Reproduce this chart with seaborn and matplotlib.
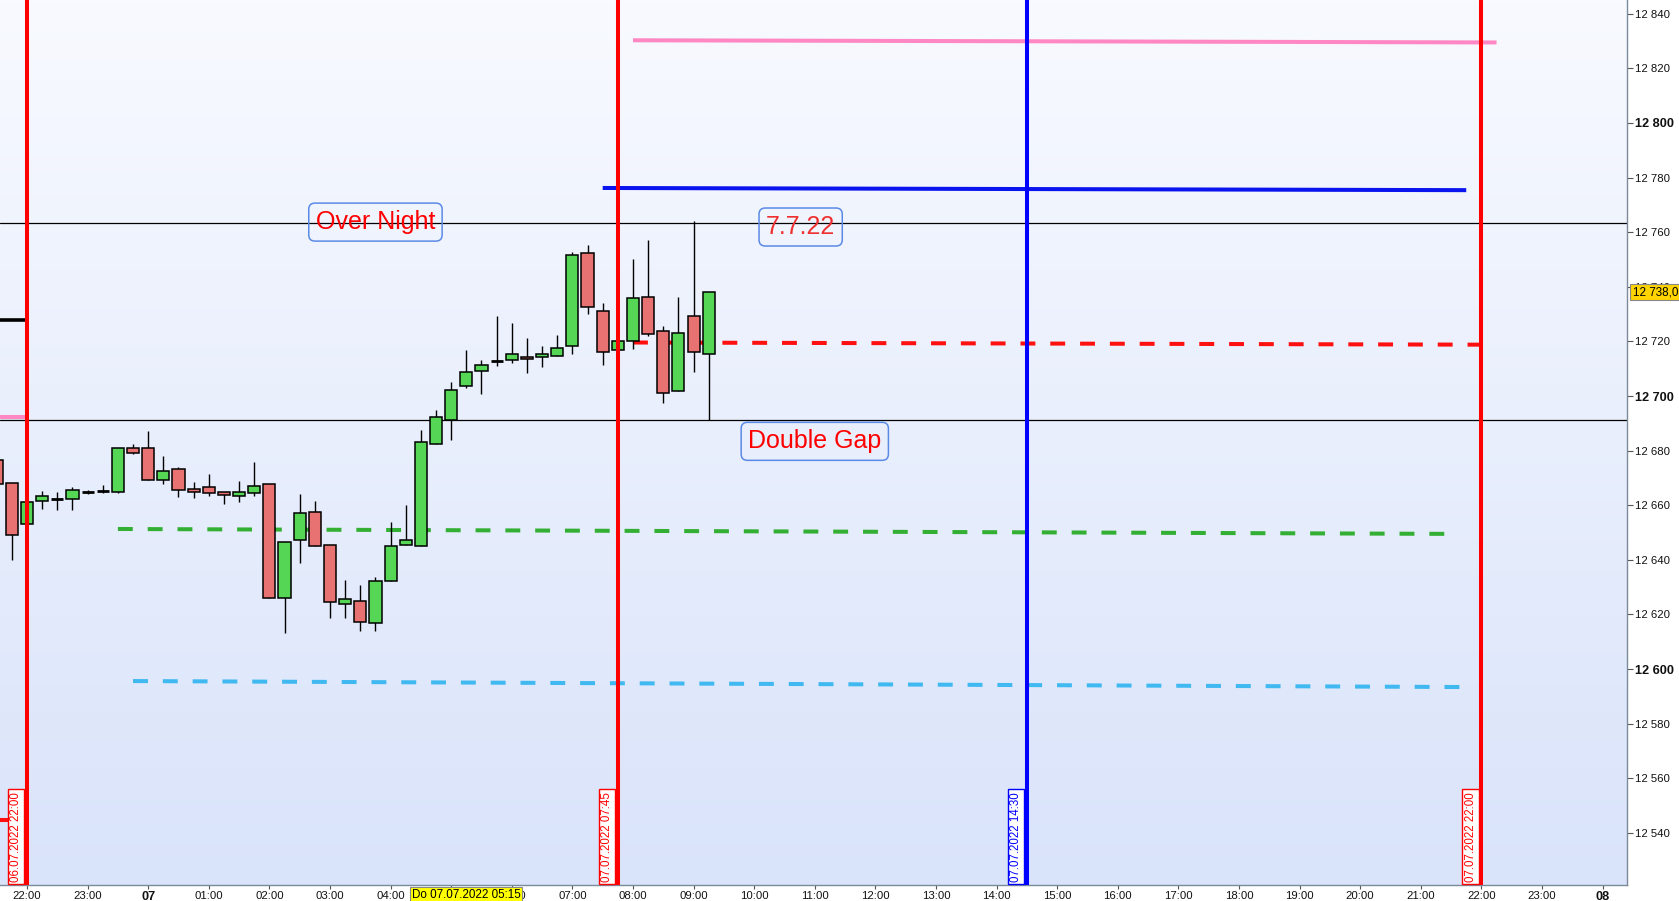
import numpy as np
import pandas as pd
import matplotlib
matplotlib.use("Agg")
import matplotlib.pyplot as plt
import matplotlib.transforms as mtransforms
import seaborn as sns

# ---------------- data ----------------
# 15-minute bars, 06.07.2022 21:30 .. 07.07.2022 09:15
bar_times = ["06.07 21:30", "06.07 21:45", "06.07 22:00", "06.07 22:15", "06.07 22:30", "06.07 22:45",
             "06.07 23:00", "06.07 23:15", "06.07 23:30", "06.07 23:45",
             "07.07 00:00", "07.07 00:15", "07.07 00:30", "07.07 00:45", "07.07 01:00", "07.07 01:15",
             "07.07 01:30", "07.07 01:45", "07.07 02:00", "07.07 02:15", "07.07 02:30", "07.07 02:45",
             "07.07 03:00", "07.07 03:15", "07.07 03:30", "07.07 03:45", "07.07 04:00", "07.07 04:15",
             "07.07 04:30", "07.07 04:45", "07.07 05:00", "07.07 05:15", "07.07 05:30", "07.07 05:45",
             "07.07 06:00", "07.07 06:15", "07.07 06:30", "07.07 06:45", "07.07 07:00", "07.07 07:15",
             "07.07 07:30", "07.07 07:45", "07.07 08:00", "07.07 08:15", "07.07 08:30", "07.07 08:45",
             "07.07 09:00", "07.07 09:15"]
opens = [12676.6, 12668.0, 12653.3, 12661.7, 12662.4, 12662.1, 12664.7, 12665.3, 12665.0, 12680.8,
         12680.8, 12669.4, 12673.1, 12666.1, 12666.5, 12665.0, 12663.2, 12664.3, 12667.6, 12625.9,
         12647.1, 12657.7, 12645.6, 12624.0, 12625.1, 12616.7, 12632.1, 12645.6, 12644.9, 12682.6,
         12691.2, 12703.5, 12709.1, 12712.7, 12713.1, 12714.2, 12714.2, 12714.6, 12718.2, 12752.3,
         12731.0, 12716.8, 12720.1, 12736.2, 12723.7, 12701.7, 12729.2, 12715.3]
highs = [12678.0, 12668.0, 12661.0, 12665.2, 12664.7, 12666.5, 12665.5, 12667.4, 12680.8, 12682.4,
         12687.1, 12678.0, 12674.0, 12668.5, 12671.4, 12665.0, 12668.8, 12675.8, 12667.6, 12646.7,
         12664.1, 12661.5, 12645.6, 12632.6, 12630.7, 12633.7, 12653.8, 12660.0, 12687.5, 12694.8,
         12705.2, 12716.9, 12713.2, 12729.2, 12726.8, 12721.3, 12718.3, 12722.4, 12752.8, 12755.3,
         12734.1, 12720.1, 12750.2, 12757.2, 12725.7, 12736.3, 12764.1, 12738.2]
lows = [12667.0, 12640.0, 12653.3, 12658.7, 12658.3, 12658.3, 12664.2, 12664.6, 12664.6, 12678.7,
        12669.1, 12667.9, 12663.0, 12662.7, 12663.3, 12660.5, 12661.3, 12663.5, 12625.9, 12613.3,
        12638.9, 12644.9, 12618.8, 12618.8, 12614.0, 12614.0, 12632.1, 12645.6, 12644.9, 12682.6,
        12684.0, 12703.1, 12700.9, 12711.1, 12712.0, 12708.6, 12710.5, 12714.6, 12715.5, 12730.2,
        12711.5, 12716.8, 12717.4, 12722.0, 12697.6, 12701.7, 12708.9, 12691.2]
closes = [12667.6, 12649.0, 12661.0, 12663.2, 12662.4, 12665.4, 12664.7, 12665.3, 12680.8, 12679.3,
          12669.1, 12672.4, 12665.4, 12664.9, 12664.3, 12663.6, 12665.0, 12667.2, 12625.9, 12646.7,
          12657.0, 12644.9, 12624.4, 12625.5, 12617.1, 12632.4, 12644.9, 12647.1, 12683.0, 12692.2,
          12702.1, 12708.7, 12711.3, 12712.7, 12715.3, 12713.5, 12715.3, 12717.5, 12751.6, 12732.5,
          12716.0, 12720.1, 12735.8, 12722.6, 12701.0, 12723.0, 12716.0, 12738.0]
last_price = 12738.0

# drawn level lines: (start, end, price at start, price at end)
level_names = ["pink", "blue", "red_dash", "green_dash", "cyan_dash"]
level_start = ["07.07 08:00", "07.07 07:30", "07.07 08:00", "06.07 23:30", "06.07 23:45"]
level_end = ["07.07 22:15", "07.07 21:45", "07.07 22:05", "07.07 21:30", "07.07 21:45"]
level_p0 = [12830.3, 12776.2, 12719.6, 12651.3, 12595.6]
level_p1 = [12829.5, 12775.4, 12718.8, 12649.5, 12593.4]

# full-width horizontal lines
hlines = [12763.3, 12691.2]
# short stubs left of the session line
stub_prices = [12727.8, 12692.4, 12544.7]

# vertical time markers
vlines_t = ["06.07 22:00", "07.07 07:45", "07.07 14:30", "07.07 22:00"]
vlines_lbl = ["06.07.2022 22:00", "07.07.2022 07:45", "07.07.2022 14:30", "07.07.2022 22:00"]

# text annotations
notes = ["Over Night", "7.7.22", "Double Gap"]
note_t = ["07.07 03:45", "07.07 10:46", "07.07 11:00"]
note_p = [12763.7, 12761.9, 12683.4]

crosshair_t = "07.07 05:15"
crosshair_lbl = "Do 07.07.2022 05:15"

x_tick_hours = list(range(-2, 25))
x_tick_labels = ["22:00", "23:00", "07"] + [f"{h:02d}:00" for h in range(1, 24)] + ["08"]
y_ticks = list(range(12540, 12841, 20))


def to_h(s):
    d, hm = s.split()
    day = int(d.split(".")[0])
    h, m = hm.split(":")
    return (day - 7) * 24 + int(h) + int(m) / 60.0


df = pd.DataFrame({"t": [to_h(s) for s in bar_times], "open": opens, "high": highs,
                   "low": lows, "close": closes})

# ---------------- style ----------------
sns.set_theme(style="white")
plt.rcParams["font.family"] = ["Liberation Sans", "DejaVu Sans"]

W, H = 1679, 901
fig = plt.figure(figsize=(W / 100, H / 100), dpi=100)
fig.patch.set_facecolor("white")
ax = fig.add_axes([0, 16 / H, 1627 / W, 885 / H])

XMIN, XMAX = -2.4455, 24.403
YMIN, YMAX = 12520.9, 12845.05

# gradient background
grad = np.linspace(0, 1, 256).reshape(-1, 1)
top = np.array([248, 250, 255]) / 255
bot = np.array([217, 227, 250]) / 255
img = top[None, None, :] * (1 - grad[..., None]) + bot[None, None, :] * grad[..., None]
ax.imshow(img, extent=[0, 1, 0, 1], transform=ax.transAxes, aspect="auto", zorder=0)

# horizontal black lines
for p in hlines:
    ax.axhline(p, color="black", lw=0.9, zorder=2)

# level lines
styles = {"pink": dict(color="#ff88c4", lw=2.9, ls="-"),
          "blue": dict(color="#0a14ee", lw=2.9, ls="-"),
          "red_dash": dict(color="#ff1010", lw=2.9, dashes=(3.7, 3.7)),
          "green_dash": dict(color="#33b033", lw=2.9, dashes=(3.7, 3.7)),
          "cyan_dash": dict(color="#40b8f0", lw=2.9, dashes=(3.7, 3.7))}
for name, s0, s1, p0, p1 in zip(level_names, level_start, level_end, level_p0, level_p1):
    st = dict(styles[name])
    ax.plot([to_h(s0), to_h(s1)], [p0, p1], solid_capstyle="butt", dash_capstyle="butt",
            zorder=3, **st)

# stubs at far left
x0 = XMIN
xs = to_h(vlines_t[0])
ax.plot([x0, xs], [stub_prices[0]] * 2, color="black", lw=2.6, solid_capstyle="butt", zorder=3)
ax.plot([x0, xs], [stub_prices[1]] * 2, color="#ff88c4", lw=2.9, solid_capstyle="butt", zorder=3)
ax.plot([x0, x0 + 0.19], [stub_prices[2]] * 2, color="#ff1010", lw=2.9, solid_capstyle="butt", zorder=3)

# candles
body_w = 0.2
up = df["close"] >= df["open"]
ax.vlines(df["t"], df["low"], df["high"], color="black", lw=1.0, zorder=4)
flat = (df["close"] - df["open"]).abs() < 0.05
green = df[up & ~flat]
red = df[~up & ~flat]
ax.bar(green["t"], green["close"] - green["open"], bottom=green["open"], width=body_w,
       color="#55d655", edgecolor="black", linewidth=1.1, zorder=5)
ax.bar(red["t"], red["close"] - red["open"], bottom=red["open"], width=body_w,
       color="#e87272", edgecolor="black", linewidth=1.1, zorder=5)
dj = df[flat]
ax.hlines(dj["close"], dj["t"] - body_w / 2, dj["t"] + body_w / 2, color="black", lw=2.0, zorder=5)

# vertical markers
blend = mtransforms.blended_transform_factory(ax.transData, ax.transAxes)
for t, lbl in zip(vlines_t, vlines_lbl):
    c = "#0000ff" if "14:30" in lbl else "#ff0000"
    ax.axvline(to_h(t), color=c, lw=2.9, zorder=6)
    ax.annotate(lbl, xy=(to_h(t), 0), xycoords=blend, xytext=(-3.5, 2.5), textcoords="offset points",
                rotation=90, ha="right", va="bottom", fontsize=8.3, color=c, zorder=7,
                bbox=dict(boxstyle="square,pad=0.2", fc="white", ec=c, lw=1.0))

# notes
for s, t, p in zip(notes, note_t, note_p):
    tc = "#ee3030" if s == "7.7.22" else "#ff0000"
    ax.text(to_h(t), p, s, ha="center", va="center", fontsize=18, color=tc, zorder=8,
            bbox=dict(boxstyle="round,pad=0.28,rounding_size=0.25", fc="none", ec="#5b8ae6", lw=1.1))

ax.set_xlim(XMIN, XMAX)
ax.set_ylim(YMIN, YMAX)

# axes styling
for side in ["top", "left"]:
    ax.spines[side].set_visible(False)
for side in ["right", "bottom"]:
    ax.spines[side].set_visible(True)
    ax.spines[side].set_color("#7d8a99")
    ax.spines[side].set_linewidth(1.0)

ax.yaxis.tick_right()
ax.set_yticks(y_ticks)
ax.set_yticklabels([f"{v // 1000} {v % 1000:03d}" for v in y_ticks])
ax.tick_params(axis="y", which="major", direction="out", length=4, width=0.8, color="#555555",
               labelsize=8.2, labelcolor="#111111", pad=2, right=True, left=False)
for lab, v in zip(ax.get_yticklabels(), y_ticks):
    if v % 100 == 0:
        lab.set_fontweight("bold")
        lab.set_fontsize(9.2)

ax.set_xticks(x_tick_hours)
ax.set_xticklabels(x_tick_labels)
ax.tick_params(axis="x", which="major", direction="out", length=3, width=0.8, color="#555555",
               labelsize=8.2, labelcolor="#111111", pad=1.0, bottom=True)
for lab, txt in zip(ax.get_xticklabels(), x_tick_labels):
    if ":" not in txt:
        lab.set_fontweight("bold")
        lab.set_fontsize(9.2)
ax.grid(False)

# current price label
ax.annotate(f"{int(last_price) // 1000} {int(last_price) % 1000:03d},0", xy=(1, last_price),
            xycoords=mtransforms.blended_transform_factory(ax.transAxes, ax.transData),
            xytext=(4.0, 0), textcoords="offset points", ha="left", va="center",
            fontsize=8.4, color="black", zorder=20, annotation_clip=False,
            bbox=dict(boxstyle="square,pad=0.18", fc="#ffd400", ec="#888888", lw=0.8))

# crosshair time label
ax.annotate(crosshair_lbl, xy=(to_h(crosshair_t), 0), xycoords=blend, xytext=(0, -3),
            textcoords="offset points", ha="center", va="top", fontsize=8.4, color="black",
            zorder=20, annotation_clip=False,
            bbox=dict(boxstyle="square,pad=0.15", fc="#ffff00", ec="#888888", lw=0.8))

fig.savefig("out.png", dpi=100, facecolor="white")
